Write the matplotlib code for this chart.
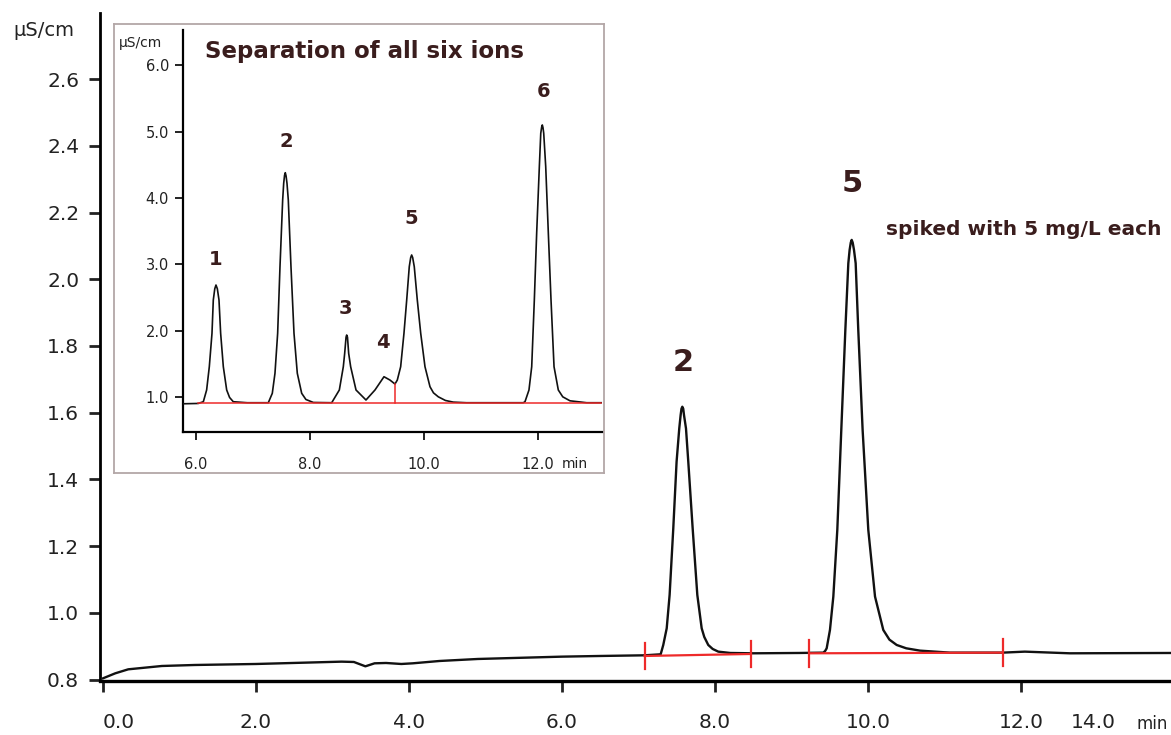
import numpy as np
import matplotlib
matplotlib.use("Agg")
import matplotlib.pyplot as plt

# main chromatogram (min, uS/cm)
main_t = [0.0, 0.16, 0.33, 0.77, 1.2, 2.0, 3.12, 3.28, 3.43, 3.55, 3.7, 3.9, 4.05,
          4.4, 4.9, 6.0, 6.5, 7.08, 7.29, 7.324, 7.369, 7.407, 7.455, 7.498, 7.533,
          7.551, 7.562, 7.573, 7.585, 7.595, 7.621, 7.651, 7.708, 7.769, 7.826, 7.86,
          7.912, 7.97, 8.043, 8.2, 8.5, 9.1, 9.416, 9.44, 9.46, 9.503, 9.547, 9.599,
          9.651, 9.704, 9.743, 9.76, 9.775, 9.787, 9.8, 9.817, 9.839, 9.873, 9.93,
          10.004, 10.092, 10.2, 10.28, 10.375, 10.5, 10.68, 11.07, 11.76, 12.05,
          12.64, 13.96]
main_v = [0.804, 0.819, 0.831, 0.841, 0.844, 0.847, 0.854, 0.853, 0.840, 0.849, 0.850,
          0.847, 0.849, 0.856, 0.862, 0.869, 0.871, 0.873, 0.876, 0.904, 0.954, 1.054,
          1.254, 1.453, 1.553, 1.593, 1.612, 1.618, 1.612, 1.593, 1.553, 1.453, 1.254,
          1.054, 0.954, 0.928, 0.904, 0.892, 0.884, 0.880, 0.879, 0.880, 0.881, 0.886,
          0.894, 0.949, 1.049, 1.249, 1.548, 1.848, 2.048, 2.088, 2.110, 2.118, 2.110,
          2.088, 2.048, 1.848, 1.548, 1.249, 1.049, 0.949, 0.920, 0.904, 0.894, 0.887,
          0.881, 0.881, 0.884, 0.879, 0.880]

# integration baselines in the main trace
main_base_t = [(7.08, 8.47), (9.23, 11.76)]
main_base_v = [(0.871, 0.877), (0.879, 0.881)]

# inset chromatogram (all six ions)
ins_t = [5.77, 6.04, 6.129, 6.187, 6.234, 6.281, 6.304, 6.33, 6.351, 6.375, 6.404,
         6.433, 6.48, 6.539, 6.59, 6.655, 6.9, 7.27, 7.34, 7.387, 7.434, 7.475, 7.522,
         7.54, 7.555, 7.568, 7.582, 7.598, 7.621, 7.668, 7.721, 7.779, 7.856, 7.93,
         8.06, 8.383, 8.517, 8.587, 8.611, 8.635, 8.646, 8.66, 8.681, 8.716, 8.81,
         8.985, 9.143, 9.301, 9.406, 9.494, 9.535, 9.594, 9.652, 9.7, 9.745, 9.77,
         9.787, 9.805, 9.833, 9.886, 9.946, 10.021, 10.109, 10.17, 10.255, 10.38,
         10.518, 10.75, 11.747, 11.777, 11.847, 11.895, 11.941, 11.982, 12.029,
         12.054, 12.07, 12.081, 12.093, 12.106, 12.141, 12.187, 12.234, 12.287,
         12.362, 12.44, 12.567, 12.86, 13.12]
ins_v = [0.895, 0.900, 0.926, 1.103, 1.454, 1.958, 2.46, 2.63, 2.686, 2.63, 2.46,
         1.958, 1.454, 1.103, 0.99, 0.926, 0.911, 0.911, 1.053, 1.355, 1.958, 2.962,
         3.968, 4.22, 4.34, 4.38, 4.33, 4.22, 3.968, 2.962, 1.958, 1.355, 1.053, 0.96,
         0.915, 0.911, 1.103, 1.454, 1.656, 1.90, 1.932, 1.90, 1.656, 1.454, 1.103,
         0.952, 1.103, 1.303, 1.253, 1.193, 1.253, 1.454, 1.958, 2.46, 2.962, 3.10,
         3.139, 3.10, 2.962, 2.46, 1.958, 1.454, 1.152, 1.06, 1.0, 0.945,
         0.92, 0.911, 0.911, 0.926, 1.103, 1.454, 2.46, 3.466, 4.471,
         4.974, 5.07, 5.10, 5.06, 4.974, 4.471, 3.466, 2.46, 1.454,
         1.103, 1.0, 0.94, 0.911, 0.911]
ins_base = (6.04, 13.12, 0.908)
ins_drop = (9.494, 1.193)

ins_labels = ["1", "2", "3", "4", "5", "6"]
ins_label_t = [6.35, 7.59, 8.62, 9.28, 9.787, 12.1]
ins_label_v = [3.07, 4.85, 2.335, 1.816, 3.69, 5.61]

main_labels = ["2", "5"]
main_label_t = [7.58, 9.80]
main_label_v = [1.752, 2.288]

main_xticks = [0, 2, 4, 6, 8, 10, 12]
main_yticks = [0.8, 1.0, 1.2, 1.4, 1.6, 1.8, 2.0, 2.2, 2.4, 2.6]
ins_xticks = [6, 8, 10, 12]
ins_yticks = [1, 2, 3, 4, 5, 6]

W, H = 1171, 735
txt = "#3a1d1d"
red = "#ee2a2a"

fig = plt.figure(figsize=(W / 100, H / 100), dpi=100)

def box(l, t, r, b):
    return [l / W, 1 - b / H, (r - l) / W, (b - t) / H]

ax = fig.add_axes(box(100, 13, 1171, 681))
ax.plot(main_t, main_v, color="#111111", lw=1.7, zorder=3)
for (t0, t1), (v0, v1) in zip(main_base_t, main_base_v):
    ax.plot([t0, t1], [v0, v1], color=red, lw=1.6, zorder=4)
    for t, v in ((t0, v0), (t1, v1)):
        ax.plot([t, t], [v - 0.04, v + 0.04], color=red, lw=1.6, zorder=4)
for s, t, v in zip(main_labels, main_label_t, main_label_v):
    ax.text(t, v, s, ha="center", va="center", fontsize=22, fontweight="bold", color=txt)
ax.text(10.24, 2.148, "spiked with 5 mg/L each", ha="left", va="center",
        fontsize=14.5, fontweight="bold", color=txt)

ax.set_xlim(-0.039, 13.961)
ax.set_ylim(0.796, 2.798)
ax.set_xticks(main_xticks, [f"{x:.1f}" for x in main_xticks])
ax.set_yticks(main_yticks, [f"{y:.1f}" for y in main_yticks])
ax.xaxis.get_ticklabels()[0].set_horizontalalignment("left")
for sp in ("top", "right"):
    ax.spines[sp].set_visible(False)
ax.spines["left"].set_linewidth(2)
ax.spines["bottom"].set_linewidth(2.4)
ax.tick_params(axis="x", length=8, width=2, pad=15, labelsize=14.5, colors="#222222")
ax.tick_params(axis="y", length=8, width=2, pad=7, labelsize=14.5, colors="#222222")
ax.annotate("14.0", xy=(12.94, 0), xycoords=("data", "axes fraction"),
            xytext=(0, -23), textcoords="offset points", ha="center", va="top",
            fontsize=14.5, color="#222222")
fig.text(1168 / W, 1 - 724 / H, "min", ha="right", va="center", fontsize=12, color="#222222")
fig.text(44 / W, 1 - 30 / H, "µS/cm", ha="center", va="center", fontsize=14, color="#222222")

# inset frame
fr = fig.add_axes(box(114, 24, 604, 473))
fr.set_xticks([])
fr.set_yticks([])
for sp in fr.spines.values():
    sp.set_color("#b3a7a7")
    sp.set_linewidth(1.3)

ia = fig.add_axes(box(183, 30, 601.7, 431.7))
ia.patch.set_alpha(0)
ia.plot(ins_t, ins_v, color="#111111", lw=1.2, zorder=3)
ia.plot([ins_base[0], ins_base[1]], [ins_base[2], ins_base[2]], color=red, lw=1.1, zorder=4)
ia.plot([ins_drop[0], ins_drop[0]], [ins_base[2], ins_drop[1]], color=red, lw=1.1, zorder=4)
for s, t, v in zip(ins_labels, ins_label_t, ins_label_v):
    ia.text(t, v, s, ha="center", va="center", fontsize=14, fontweight="bold", color=txt)
ia.text(6.158, 6.205, "Separation of all six ions", ha="left", va="center",
        fontsize=16.5, fontweight="bold", color=txt)
ia.set_xlim(5.772, 13.124)
ia.set_ylim(0.474, 6.532)
ia.set_xticks(ins_xticks, [f"{x:.1f}" for x in ins_xticks])
ia.set_yticks(ins_yticks, [f"{y:.1f}" for y in ins_yticks])
for sp in ("top", "right"):
    ia.spines[sp].set_visible(False)
ia.spines["left"].set_linewidth(1.6)
ia.spines["bottom"].set_linewidth(1.6)
ia.tick_params(axis="x", length=6, width=1.4, pad=12, labelsize=10.5, colors="#222222")
ia.tick_params(axis="y", length=6, width=1.4, pad=4, labelsize=10.5, colors="#222222")
fig.text(140 / W, 1 - 43 / H, "µS/cm", ha="center", va="center", fontsize=10, color="#222222")
fig.text(575 / W, 1 - 464 / H, "min", ha="center", va="center", fontsize=10, color="#222222")

fig.savefig("out.png", dpi=100)
